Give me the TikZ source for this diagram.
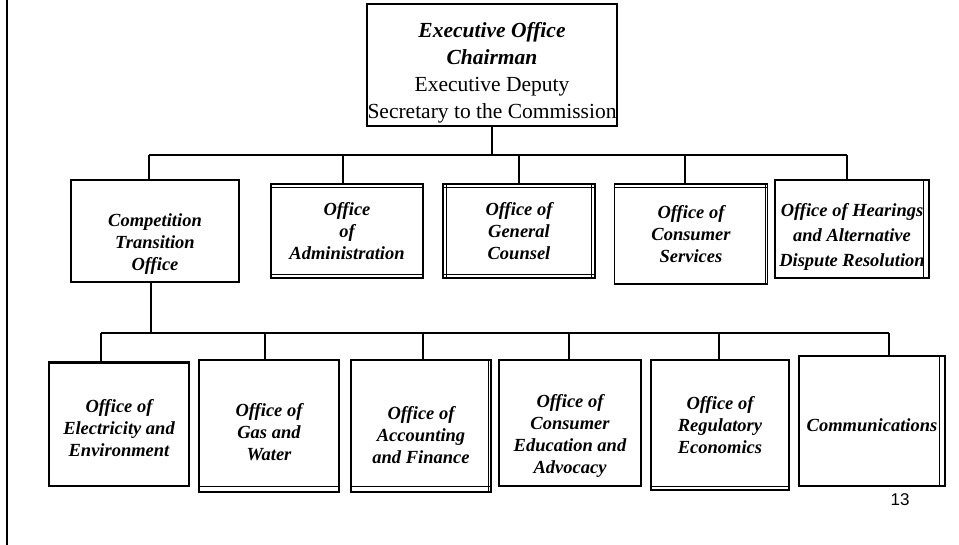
\documentclass[tikz,border=0pt]{standalone}
\usepackage{fontspec}
\setmainfont{Liberation Serif}
\newfontfamily\pagefont{Liberation Sans}
\usepackage{tikz}
\usetikzlibrary{positioning}

% pushes a box's text down by half the given length
\newcommand{\pushdown}[1]{\rule{0pt}{#1}}

\begin{document}
\begin{tikzpicture}[x=1pt, y=-1pt,
  offbox/.style={draw, line width=1.3pt, align=center, inner sep=0pt, font=\bfseries\itshape\fontsize{18.5}{22}\selectfont},
  topbox/.style={draw, line width=1.3pt, align=center, inner sep=0pt, font=\fontsize{21.5}{27}\selectfont},
  link/.style={line width=1.3pt},
  edge2/.style={line width=1pt}
]
  \useasboundingbox (0,0) rectangle (959,545);
  \draw[link] (7,0) -- (7,545);

  % head office
  \node[topbox, minimum width=250, minimum height=122] (exec) at (492,65)
    {\pushdown{30pt}\textbf{\textit{Executive Office}}\\\textbf{\textit{Chairman}}\\Executive Deputy\\Secretary to the Commission};

  % second level
  \node[offbox, minimum width=168, minimum height=102] (cto) at (155,231) {\pushdown{38pt}Competition\\Transition\\Office};
  \node[offbox, minimum width=152, minimum height=94] (adm) at (347,231) {Office\\of\\Administration};
  \node[offbox, minimum width=152, minimum height=94] (gc) at (519,231) {Office of\\General\\Counsel};
  \node[offbox, minimum width=153, minimum height=100] (cs) at (691,234) {Office of\\Consumer\\Services};
  \node[offbox, minimum width=154, minimum height=98, font=\bfseries\itshape\fontsize{18.5}{25}\selectfont] (hear) at (852,229) {\pushdown{28pt}Office of Hearings\\and Alternative\\Dispute Resolution};

  % third level
  \node[offbox, minimum width=140, minimum height=124] (ele) at (119,424) {\pushdown{22pt}Office of\\Electricity and\\Environment};
  \node[offbox, minimum width=140, minimum height=132] (gas) at (269,426) {\pushdown{26pt}Office of\\Gas and\\Water};
  \node[offbox, minimum width=140, minimum height=132] (acc) at (421,426) {\pushdown{32pt}Office of\\Accounting\\and Finance};
  \node[offbox, minimum width=142, minimum height=126] (edu) at (570,423) {\pushdown{38pt}Office of\\Consumer\\Education and\\Advocacy};
  \node[offbox, minimum width=138, minimum height=130] (reg) at (720,425) {Office of\\Regulatory\\Economics};
  \node[offbox, minimum width=146, minimum height=130] (com) at (872,421) {\pushdown{22pt}Communications};

  % doubled edges
  \draw[edge2] ([yshift=-4]adm.north west) -- ([yshift=-4]adm.north east);
  \draw[edge2] ([yshift=4]adm.south west) -- ([yshift=4]adm.south east);
  \draw[edge2] ([xshift=4]gc.north west) -- ([xshift=4]gc.south west);
  \draw[edge2] ([yshift=-4]gc.north west) -- ([yshift=-4]gc.north east);
  \draw[edge2] ([xshift=-4]gc.north east) -- ([xshift=-4]gc.south east);
  \draw[edge2] ([yshift=4]gc.south west) -- ([yshift=4]gc.south east);
  \draw[edge2] ([yshift=-4]cs.north west) -- ([yshift=-4]cs.north east);
  \draw[edge2] ([xshift=-3]cs.north east) -- ([xshift=-3]cs.south east);
  \draw[edge2] ([xshift=-6]hear.north east) -- ([xshift=-6]hear.south east);
  \draw[line width=2pt] ([yshift=-2]ele.north west) -- ([yshift=-2]ele.north east);
  \draw[edge2] ([yshift=6]gas.south west) -- ([yshift=6]gas.south east);
  \draw[edge2] ([yshift=6]acc.south west) -- ([yshift=6]acc.south east);
  \draw[edge2] ([xshift=-3]acc.north east) -- ([xshift=-3]acc.south east);
  \draw[edge2] ([yshift=4]reg.south west) -- ([yshift=4]reg.south east);
  \draw[edge2] ([xshift=-6]com.north east) -- ([xshift=-6]com.south east);

  % connectors
  \coordinate (bar1) at (0,155);
  \coordinate (bar2) at (0,333);
  \draw[link] (exec.south) -- (exec.south |- bar1);
  \draw[link] ([xshift=-6]cto.north |- bar1) -- ([xshift=-5]hear.north |- bar1);
  \foreach \m/\dx in {cto/-6,adm/-4,gc/0,cs/-6,hear/-5}
    \draw[link] ([xshift=\dx]\m.north) -- ([xshift=\dx]\m.north |- bar1);

  \draw[link] ([xshift=-4]cto.south) -- ([xshift=-4]cto.south |- bar2);
  \draw[link] ([xshift=-18]ele.north |- bar2) -- ([xshift=17]com.north |- bar2);
  \foreach \m/\dx in {ele/-18,gas/-4,acc/2,edu/-1,reg/-1,com/17}
    \draw[link] ([xshift=\dx]\m.north) -- ([xshift=\dx]\m.north |- bar2);

  \node[font=\pagefont\fontsize{17}{17}\selectfont] (pg) at (900,500) {13};
\end{tikzpicture}
\end{document}
